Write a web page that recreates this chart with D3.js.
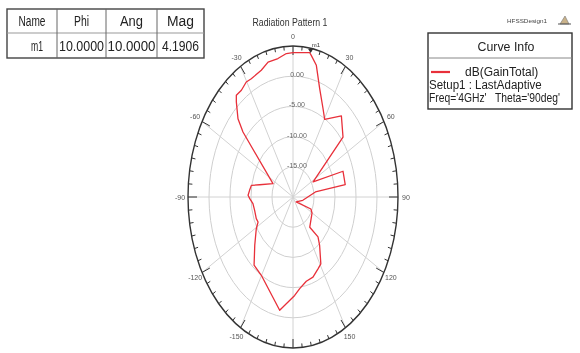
<!DOCTYPE html>
<html>
<head>
<meta charset="utf-8">
<script src="https://cdn.jsdelivr.net/npm/d3@7"></script>
<style>
  html, body { margin: 0; padding: 0; background: #fff; }
  svg { display: block; font-family: "Liberation Sans", Arial, sans-serif; will-change: transform; }
</style>
</head>
<body>
<svg id="chart" width="580" height="353"></svg>
<script>
// curve samples (angle in deg, clockwise from top; gain in dB)
const angles = [0, 9.5, 10.5, 14.3, 19.5, 26, 30.4, 40.6, 50.2, 62.5, 70.3, 80.7, 81.1,
  103, 137, 115, 120.4, 141.4, 138, 141.6, 149.1, 153.4, 160.3, 167.2, 174, 178.6,
  -170.4, -149.8, -140.6, -131.2, -121, -116.5, -112.3, -103.6, -96.6, -91.5, -88.5,
  -83.9, -79, -75.7, -65.2, -47.9, -45.3, -40.6, -38.7, -34.8, -30.3, -26.9, -19.8,
  -14.9, -8.9, -3.8, 0];
const gains = [3.89, 4.22, 3.85, 2.5, -0.97, -3.7, -5.1, -2.3, -4.5, -14.6, -7.35, -7.4, -14.6,
  -17.6, -18.9, -15.3, -14.75, -13.6, -11.1, -9.8, -7.1, -6.7, -5.9, -5.7, -4.75, -3.7,
  -0.98, -5.0, -5.4, -7.9, -9.8, -10.7, -10.55, -10.6, -10.4, -9.7, -9.3,
  -9.6, -9.9, -11.8, -14.75, -3.95, -1.57, 0.73, 1.58, 1.53, 2.05, 1.95, 2.3,
  3.1, 3.2, 3.8, 3.89];

const ringValues = [-15, -10, -5, 0];
const ringLabels = ['-15.00', '-10.00', '-5.00', '0.00'];
const angleTicks = [0, 30, 60, 90, 120, 150, -150, -120, -90, -60, -30];

const tableHeader = ['Name', 'Phi', 'Ang', 'Mag'];
const tableRow = ['m1', '10.0000', '10.0000', '4.1906'];
const markerAngle = 10;
const markerGain = 4.1906;

const legendLines = ['dB(GainTotal)', 'Setup1 : LastAdaptive', "Freq='4GHz'   Theta='90deg'"];

const svg = d3.select('#chart');

// polar frame (the picture is stretched, so rings are ellipses)
const cx = 293, cy = 197, rx = 105, ry = 151;
const r = d3.scaleLinear().domain([-20, 5]).range([0, 1]);
const rad = d => d * Math.PI / 180;
const px = (a, g) => cx + rx * r(g) * Math.sin(rad(a));
const py = (a, g) => cy - ry * r(g) * Math.cos(rad(a));

const grid = svg.append('g');

// rings
grid.selectAll('ellipse.ring')
  .data(ringValues)
  .enter().append('ellipse')
  .attr('cx', cx).attr('cy', cy)
  .attr('rx', d => rx * r(d))
  .attr('ry', d => ry * r(d))
  .attr('fill', 'none')
  .attr('stroke', '#cfcfcf')
  .attr('stroke-width', 1);

// spokes every 30 deg
grid.selectAll('line.spoke')
  .data(d3.range(0, 360, 30))
  .enter().append('line')
  .attr('x1', cx).attr('y1', cy)
  .attr('x2', d => px(d, 5))
  .attr('y2', d => py(d, 5))
  .attr('stroke', '#d2d2d2')
  .attr('stroke-width', 1);

// outer boundary
grid.append('ellipse')
  .attr('cx', cx).attr('cy', cy)
  .attr('rx', rx).attr('ry', ry)
  .attr('fill', 'none')
  .attr('stroke', '#333')
  .attr('stroke-width', 1.4);

// ticks
grid.selectAll('line.tick')
  .data(d3.range(0, 360, 5))
  .enter().append('line')
  .attr('x1', d => px(d, 5))
  .attr('y1', d => py(d, 5))
  .attr('x2', d => {
    const len = d % 30 === 0 ? 9 : 4;
    return cx + (rx - len) * Math.sin(rad(d));
  })
  .attr('y2', d => {
    const len = d % 30 === 0 ? 9 : 4;
    return cy - (ry - len) * Math.cos(rad(d));
  })
  .attr('stroke', '#333')
  .attr('stroke-width', 1);

// angle labels
grid.selectAll('text.ang')
  .data(angleTicks)
  .enter().append('text')
  .attr('x', d => cx + (rx + 8) * Math.sin(rad(d)))
  .attr('y', d => cy - (ry + 10) * Math.cos(rad(d)) + 2.5)
  .attr('text-anchor', 'middle')
  .attr('font-size', '7px')
  .attr('fill', '#555')
  .text(d => d);

// ring labels
grid.selectAll('text.ringlab')
  .data(ringValues)
  .enter().append('text')
  .attr('x', cx + 4)
  .attr('y', (d, i) => py(0, d) + 1)
  .attr('text-anchor', 'middle')
  .attr('font-size', '7px')
  .attr('fill', '#666')
  .text((d, i) => ringLabels[i]);

// curve
const pts = angles.map((a, i) => [a, gains[i]]);
svg.append('path')
  .datum(pts)
  .attr('fill', 'none')
  .attr('stroke', '#e8303a')
  .attr('stroke-width', 1.3)
  .attr('stroke-linejoin', 'round')
  .attr('d', d3.line().x(d => px(d[0], d[1])).y(d => py(d[0], d[1])));

// marker m1
const mx = px(markerAngle, markerGain), my = py(markerAngle, markerGain);
svg.append('path')
  .attr('d', `M${mx - 2.5},${my - 4}L${mx + 2.5},${my - 4}L${mx},${my}Z`)
  .attr('fill', '#333');
svg.append('text')
  .attr('x', mx + 1).attr('y', my - 6)
  .attr('font-size', '6px')
  .attr('fill', '#333')
  .text('m1');

// title
svg.append('text')
  .attr('x', 290).attr('y', 26)
  .attr('text-anchor', 'middle')
  .attr('font-size', '10.5px')
  .attr('fill', '#333')
  .attr('textLength', 75)
  .attr('lengthAdjust', 'spacingAndGlyphs')
  .text('Radiation Pattern 1');

// marker table
const colX = [7, 57, 106, 157, 204];
const rowY = [9, 33, 58];
const textW = [[27, 15, 23, 27], [12, 45, 48, 37]];
const table = svg.append('g');
table.append('rect')
  .attr('x', colX[0]).attr('y', rowY[0])
  .attr('width', colX[4] - colX[0]).attr('height', rowY[2] - rowY[0])
  .attr('fill', '#fff').attr('stroke', '#444').attr('stroke-width', 1.4);
table.append('line')
  .attr('x1', colX[0]).attr('x2', colX[4])
  .attr('y1', rowY[1]).attr('y2', rowY[1])
  .attr('stroke', '#999').attr('stroke-width', 1);
table.selectAll('line.col')
  .data(colX.slice(1, 4))
  .enter().append('line')
  .attr('x1', d => d).attr('x2', d => d)
  .attr('y1', rowY[0]).attr('y2', rowY[2])
  .attr('stroke', '#666').attr('stroke-width', 1);
[tableHeader, tableRow].forEach((row, ri) => {
  table.selectAll(null)
    .data(row)
    .enter().append('text')
    .attr('x', (d, i) => (colX[i] + colX[i + 1]) / 2 + (ri === 1 && i === 0 ? 5 : 0))
    .attr('y', (rowY[ri] + rowY[ri + 1]) / 2 + 5)
    .attr('text-anchor', 'middle')
    .attr('font-size', '14px')
    .attr('fill', '#222')
    .attr('textLength', (d, i) => textW[ri][i])
    .attr('lengthAdjust', 'spacingAndGlyphs')
    .text(d => d);
});

// design label + logo
svg.append('text')
  .attr('x', 507).attr('y', 23)
  .attr('font-size', '6px')
  .attr('fill', '#444')
  .attr('textLength', 40)
  .attr('lengthAdjust', 'spacingAndGlyphs')
  .text('HFSSDesign1');
svg.append('path')
  .attr('d', 'M560,24L565,16L569,24Z')
  .attr('fill', '#c9b28a').attr('stroke', '#777').attr('stroke-width', 0.6);
svg.append('line')
  .attr('x1', 558).attr('x2', 571).attr('y1', 24).attr('y2', 24)
  .attr('stroke', '#555').attr('stroke-width', 1);

// legend box
const lg = svg.append('g');
lg.append('rect')
  .attr('x', 428).attr('y', 33).attr('width', 144).attr('height', 76)
  .attr('fill', '#fff').attr('stroke', '#333').attr('stroke-width', 1.4);
lg.append('line')
  .attr('x1', 428).attr('x2', 572).attr('y1', 58).attr('y2', 58)
  .attr('stroke', '#888').attr('stroke-width', 1);
lg.append('text')
  .attr('x', 506).attr('y', 51)
  .attr('text-anchor', 'middle')
  .attr('font-size', '13px')
  .attr('fill', '#222')
  .attr('textLength', 57)
  .attr('lengthAdjust', 'spacingAndGlyphs')
  .text('Curve Info');
lg.append('line')
  .attr('x1', 431).attr('x2', 450).attr('y1', 72).attr('y2', 72)
  .attr('stroke', '#e8303a').attr('stroke-width', 2.2);
const legendX = [465, 429, 429];
const legendSx = [1, 0.96, 0.86];
lg.selectAll('text.leg')
  .data(legendLines)
  .enter().append('text')
  .attr('transform', (d, i) => `translate(${legendX[i]},${76 + i * 13}) scale(${legendSx[i]},1)`)
  .attr('font-size', '12px')
  .attr('fill', '#222')
  .attr('xml:space', 'preserve')
  .text(d => d);
</script>
</body>
</html>
